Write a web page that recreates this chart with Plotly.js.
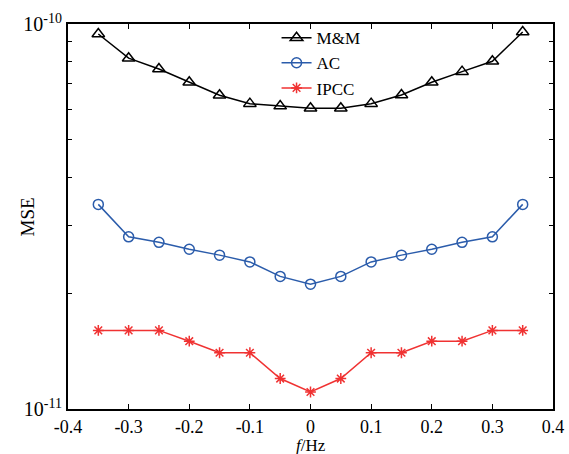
<!DOCTYPE html>
<html>
<head>
<meta charset="utf-8">
<script src="https://cdn.plot.ly/plotly-3.0.1.min.js"></script>
<style>html,body{margin:0;padding:0;background:#fff;}#chart{width:569px;height:454px;}</style>
</head>
<body>
<div id="chart"></div>
<script>
const freq = [-0.35,-0.3,-0.25,-0.2,-0.15,-0.1,-0.05,0,0.05,0.1,0.15,0.2,0.25,0.3,0.35];
const mmMSE = [9.42e-11,8.15e-11,7.64e-11,7.06e-11,6.53e-11,6.21e-11,6.12e-11,6.04e-11,6.04e-11,6.21e-11,6.54e-11,7.06e-11,7.52e-11,8.0e-11,9.53e-11];
const acMSE = [3.40e-11,2.80e-11,2.71e-11,2.60e-11,2.51e-11,2.41e-11,2.21e-11,2.11e-11,2.21e-11,2.41e-11,2.51e-11,2.60e-11,2.71e-11,2.80e-11,3.40e-11];
const ipccMSE = [1.60e-11,1.60e-11,1.60e-11,1.50e-11,1.40e-11,1.40e-11,1.20e-11,1.107e-11,1.20e-11,1.40e-11,1.40e-11,1.50e-11,1.50e-11,1.60e-11,1.60e-11];
const seriesNames = ['M&M','AC','IPCC'];
const xTickVals = [-0.4,-0.3,-0.2,-0.1,0,0.1,0.2,0.3,0.4];
const xTickText = ['-0.4','-0.3','-0.2','-0.1','0','0.1','0.2','0.3','0.4'];
const yTickVals = [1e-11,1e-10];
const yTickText = ['10<sup>-11</sup>','10<sup>-10</sup>'];
const yMinorVals = [2e-11,3e-11,4e-11,5e-11,6e-11,7e-11,8e-11,9e-11];

const font = "'Times New Roman', 'Liberation Serif', Tinos, serif";
const traces = [
  {x: freq, y: mmMSE, name: seriesNames[0], mode: 'lines+markers',
   line: {color: '#000000', width: 1.5},
   marker: {symbol: 'triangle-up-open', size: 11, color: '#000000', line: {width: 1.5, color: '#000000'}}},
  {x: freq, y: acMSE, name: seriesNames[1], mode: 'lines+markers',
   line: {color: '#2b5cab', width: 1.5},
   marker: {symbol: 'circle-open', size: 10, color: '#2b5cab', line: {width: 1.5, color: '#2b5cab'}}},
  {x: freq, y: ipccMSE, name: seriesNames[2], mode: 'lines+markers',
   line: {color: '#f03232', width: 1.5},
   marker: {symbol: 'asterisk-open', size: 9, color: '#f03232', line: {width: 1.5, color: '#f03232'}}}
];
const layout = {
  width: 569, height: 454,
  margin: {l: 68, r: 16, t: 24, b: 45, pad: 0},
  paper_bgcolor: '#ffffff', plot_bgcolor: '#ffffff',
  font: {family: font, size: 15, color: '#000000'},
  showlegend: true,
  legend: {x: 0.43, y: 1.01, xanchor: 'left', yanchor: 'top', bgcolor: 'rgba(0,0,0,0)',
           font: {family: font, size: 17, color: '#000000'}, tracegroupgap: 0, itemwidth: 30},
  xaxis: {
    range: [-0.4, 0.4], tickmode: 'array', tickvals: xTickVals, ticktext: xTickText,
    ticks: 'inside', ticklen: 5, tickwidth: 1, tickcolor: '#000',
    showline: true, linecolor: '#000', linewidth: 2, mirror: 'allticks',
    showgrid: false, zeroline: false,
    tickfont: {family: font, size: 18, color: '#000'}
  },
  yaxis: {
    type: 'log', range: [-11, -10], tickmode: 'array', tickvals: yTickVals, ticktext: yTickText,
    ticks: 'inside', ticklen: 5, tickwidth: 1, tickcolor: '#000',
    showline: true, linecolor: '#000', linewidth: 2, mirror: 'allticks',
    showgrid: false, zeroline: false,
    tickfont: {family: font, size: 20, color: '#000'},
    minor: {tickmode: 'array', tickvals: yMinorVals, ticks: 'inside', ticklen: 4, tickcolor: '#000', showgrid: false}
  },
  annotations: [
    {text: 'MSE', xref: 'paper', yref: 'paper', x: -0.0825, y: 0.5, textangle: -90,
     showarrow: false, xanchor: 'center', yanchor: 'middle',
     font: {family: font, size: 19, color: '#000'}},
    {text: '<i>f</i>/Hz', xref: 'paper', yref: 'paper', x: 0.5, y: -0.096,
     showarrow: false, xanchor: 'center', yanchor: 'middle',
     font: {family: font, size: 17, color: '#000'}}
  ]
};
Plotly.newPlot('chart', traces, layout, {displayModeBar: false, staticPlot: true});
</script>
</body>
</html>
